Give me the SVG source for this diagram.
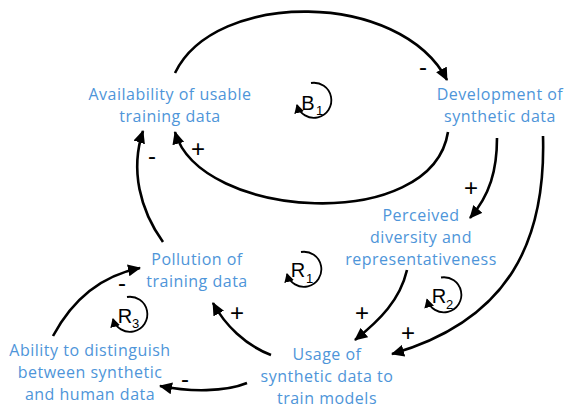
<svg xmlns="http://www.w3.org/2000/svg" width="568" height="409" viewBox="0 0 568 409">
<defs>
<marker id="ah" markerUnits="userSpaceOnUse" markerWidth="14" markerHeight="12" refX="12" refY="6" orient="auto">
<path d="M0,0 L13,6 L0,12 z" fill="#000"/>
</marker>
<marker id="ahs" markerUnits="userSpaceOnUse" markerWidth="10" markerHeight="10" refX="8" refY="5" orient="auto">
<path d="M0,0 L9,5 L0,10 z" fill="#000"/>
</marker>
<style>
.node text{font-family:"Open Sans","Liberation Sans",sans-serif;font-size:16px;letter-spacing:0.5px;fill:#4E95D9;text-anchor:middle}
.c{fill:none;stroke:#000;stroke-width:2.6;marker-end:url(#ah)}
.pol{font-family:"Liberation Sans",Arial,sans-serif;font-size:24px;fill:#000;text-anchor:middle}
.loop path{fill:none;stroke:#000;stroke-width:1.8;marker-end:url(#ahs)}
.loop text{font-family:"Liberation Sans",Arial,sans-serif;fill:#000}
.big{font-size:20px;text-anchor:middle}
.sub{font-size:13px}
</style>
</defs>
<g id="connectors">
<path class="c" d="M175,73 C215,-10 400,-10 447,80"/>
<path class="c" d="M448,132 C432,234 200,220 175,132"/>
<path class="c" d="M163,242 C140,210 130,170 143,131"/>
<path class="c" d="M497,138 C497,170 490,195 470,218"/>
<path class="c" d="M543,136 C546,240 510,320 392,354"/>
<path class="c" d="M407,270 C400,300 380,320 355,340"/>
<path class="c" d="M271,355 C245,345 225,325 213,303"/>
<path class="c" d="M247,383 C225,392 190,392 160,386"/>
<path class="c" d="M53,336 C75,295 105,275 140,268"/>
<text class="pol" x="423" y="75">-</text>
<text class="pol" x="198" y="157">+</text>
<text class="pol" x="152" y="164">-</text>
<text class="pol" x="471" y="196">+</text>
<text class="pol" x="408" y="341">+</text>
<text class="pol" x="362" y="321">+</text>
<text class="pol" x="237" y="321">+</text>
<text class="pol" x="185" y="387">-</text>
<text class="pol" x="122" y="291">-</text>
</g>
<g id="availability" class="node"><text x="170" y="100">Availability of usable</text><text x="170" y="122">training data</text></g>
<g id="development" class="node"><text x="500" y="100">Development of</text><text x="500" y="122">synthetic data</text></g>
<g id="perceived" class="node"><text x="421" y="221">Perceived</text><text x="421" y="243">diversity and</text><text x="421" y="265">representativeness</text></g>
<g id="pollution" class="node"><text x="197" y="265">Pollution of</text><text x="197" y="287">training data</text></g>
<g id="usage" class="node"><text x="327" y="360">Usage of</text><text x="327" y="382">synthetic data to</text><text x="327" y="404">train models</text></g>
<g id="ability" class="node"><text x="90" y="356">Ability to distinguish</text><text x="90" y="378">between synthetic</text><text x="90" y="400">and human data</text></g>
<g id="loop-B1" class="loop"><path d="M311,83 A17.5,17.5 0 1 1 297,105"/><text class="big" x="308" y="110">B</text><text class="sub" x="316" y="115">1</text></g>
<g id="loop-R1" class="loop"><path d="M301,252 A17.5,17.5 0 1 1 287,274"/><text class="big" x="298" y="277">R</text><text class="sub" x="306" y="283">1</text></g>
<g id="loop-R2" class="loop"><path d="M441,277.5 A17.5,17.5 0 1 1 427,299.5"/><text class="big" x="439" y="303">R</text><text class="sub" x="446" y="309">2</text></g>
<g id="loop-R3" class="loop"><path d="M127,297 A17.5,17.5 0 1 1 113,319"/><text class="big" x="125" y="323">R</text><text class="sub" x="132" y="328">3</text></g>
</svg>
